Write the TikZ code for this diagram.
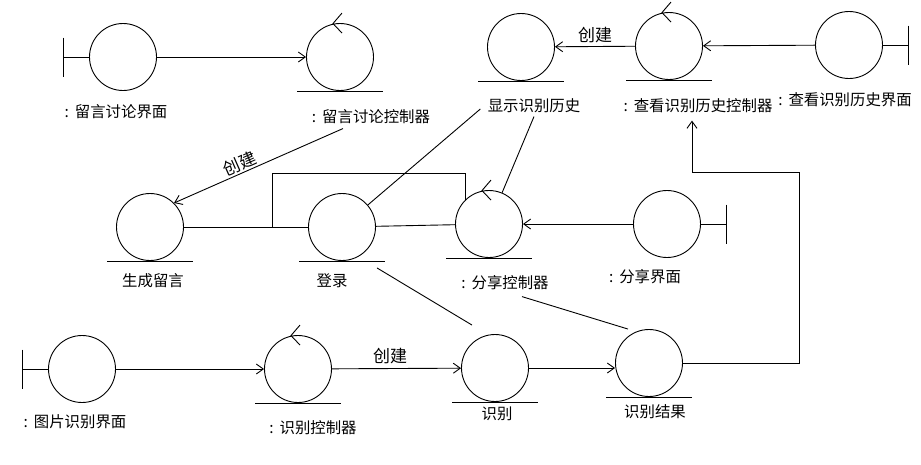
\documentclass[tikz,border=0pt]{standalone}
\usepackage{fontspec}
\setmainfont{Noto Sans CJK SC}
\usetikzlibrary{arrows.meta}

% marks that turn a plain circle into a robustness symbol
\newcommand\bndleft[1]{\draw (#1.west) -- ++(-25.5,0) coordinate (#1-bar);
  \draw ([yshift=19.5pt]#1-bar) -- ([yshift=-19.5pt]#1-bar);}
\newcommand\bndright[1]{\draw (#1.east) -- ++(25.5,0) coordinate (#1-bar);
  \draw ([yshift=19.5pt]#1-bar) -- ([yshift=-19.5pt]#1-bar);}
\newcommand\entbase[1]{\draw ([xshift=-43pt]#1.south) -- ([xshift=43pt]#1.south);}
\newcommand\ctlmark[1]{\entbase{#1}
  \draw ([xshift=2pt,yshift=10pt]#1.north) -- ([xshift=-7pt,yshift=-0.5pt]#1.north) -- ([xshift=2pt,yshift=-10pt]#1.north);}
\newcommand\obname[1]{:\hspace{6pt}#1}

\begin{document}
\begin{tikzpicture}[x=1pt, y=-1pt, line width=0.9pt,
        obj/.style={draw, circle, minimum size=67pt, inner sep=0pt},
        lbl/.style={font=\fontsize{15.4pt}{18pt}\selectfont, inner sep=1pt},
        verb/.style={font=\fontsize{17pt}{20pt}\selectfont, inner sep=1pt},
        flow/.style={draw, -{Straight Barb[length=7pt, width=10pt]}}]
    \useasboundingbox (0,0) rectangle (921,464);

    % top row
    \node [obj] (talkui) at (123,57) {};
    \node [obj] (talkctl) at (340,57) {};
    \node [obj] (histent) at (521,47) {};
    \node [obj] (histctl) at (669,46) {};
    \node [obj] (histui) at (849,45) {};
    \node [lbl] (talkuilbl) at (116,112) {\obname{留言讨论界面}};
    \node [lbl] (talkctllbl) at (371,117) {\obname{留言讨论控制器}};
    \node [lbl] (histentlbl) at (534,106) {显示识别历史};
    \node [lbl] (histctllbl) at (698,106) {\obname{查看识别历史控制器}};
    \node [lbl] (histuilbl) at (845,100) {\obname{查看识别历史界面}};

    % middle row
    \node [obj] (msg) at (150,227) {};
    \node [obj] (login) at (342,227) {};
    \node [obj] (sharectl) at (489,224) {};
    \node [obj] (shareui) at (667,224) {};
    \node [lbl] (msglbl) at (153,281) {生成留言};
    \node [lbl] (loginlbl) at (332,281) {登录};
    \node [lbl] (sharectllbl) at (505,283) {\obname{分享控制器}};
    \node [lbl] (shareuilbl) at (645,277) {\obname{分享界面}};

    % bottom row
    \node [obj] (picui) at (82,369) {};
    \node [obj] (recctl) at (298,369) {};
    \node [obj] (rec) at (495,368) {};
    \node [obj] (result) at (649,363) {};
    \node [lbl] (picuilbl) at (75,422) {\obname{图片识别界面}};
    \node [lbl] (recctllbl) at (313,428) {\obname{识别控制器}};
    \node [lbl] (reclbl) at (497,414) {识别};
    \node [lbl] (resultlbl) at (655,412) {识别结果};

    \bndleft{talkui} \bndleft{picui}
    \bndright{histui} \bndright{shareui}
    \ctlmark{talkctl} \ctlmark{histctl} \ctlmark{sharectl} \ctlmark{recctl}
    \entbase{histent} \entbase{msg} \entbase{login} \entbase{rec} \entbase{result}

    % connectors
    \draw [flow] (talkui) -- (talkctl);
    \draw [flow] (histui) -- (histctl);
    \draw [flow] (histctl) -- node [verb, above=2pt] {创建} (histent);
    \draw [flow] ([xshift=-28pt, yshift=-3pt]talkctllbl.south) -- node [verb, sloped, above=0pt, pos=0.59] {创建} (msg.north east);
    \draw (msg) -- (login);
    \draw (msg.east) -| (272,173) -| (sharectl.north west);
    \draw (login) -- (sharectl);
    \draw ([xshift=-6pt, yshift=-3pt]histentlbl.west) -- (login);
    \draw ([yshift=-2pt]histentlbl.south) -- (sharectl);
    \draw [flow] (shareui) -- (sharectl);
    \draw ([xshift=35pt, yshift=-7pt]login.south) -- ([xshift=-23pt, yshift=9pt]rec.north);
    \draw ([xshift=17pt, yshift=-5pt]sharectllbl.south) -- ([xshift=-21pt]result.north);
    \draw [flow] (picui) -- (recctl);
    \draw [flow] (recctl) -- node [verb, above=3pt, pos=0.45] {创建} (rec);
    \draw [flow] (rec.east) -- (rec.east -| result.west);
    \draw [flow] (result.east) -| (799,172) -| ([xshift=-6pt, yshift=-6pt]histctllbl.south);
\end{tikzpicture}
\end{document}
